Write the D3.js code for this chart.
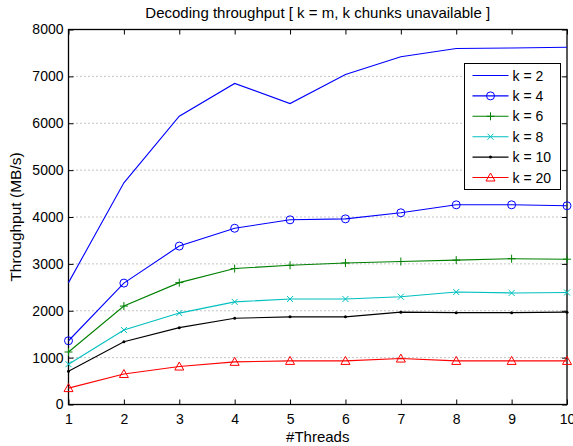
<!DOCTYPE html>
<html>
<head>
<meta charset="utf-8">
<script src="https://cdn.jsdelivr.net/npm/d3@7/dist/d3.min.js"></script>
<style>
  html, body { margin: 0; padding: 0; background: #fff; }
  svg { display: block; font-family: "Liberation Sans", Arial, Helvetica, sans-serif; }
</style>
</head>
<body>
<svg id="chart" width="573" height="446"></svg>
<script>
// Thread counts on the x axis
const threads = [1, 2, 3, 4, 5, 6, 7, 8, 9, 10];

// Decoding throughput (MB/s) per k
const k2  = [2600, 4730, 6150, 6850, 6420, 7040, 7420, 7595, 7605, 7620];
const k4  = [1360, 2590, 3380, 3760, 3940, 3960, 4090, 4260, 4260, 4240];
const k6  = [1120, 2100, 2600, 2900, 2970, 3020, 3050, 3080, 3110, 3100];
const k8  = [860, 1590, 1950, 2190, 2250, 2250, 2300, 2400, 2380, 2390];
const k10 = [710, 1340, 1640, 1840, 1870, 1870, 1970, 1960, 1960, 1970];
const k20 = [350, 650, 810, 910, 930, 930, 980, 930, 930, 930];

const seriesNames = ["k = 2", "k = 4", "k = 6", "k = 8", "k = 10", "k = 20"];
const xTicks = [1, 2, 3, 4, 5, 6, 7, 8, 9, 10];
const yTicks = [0, 1000, 2000, 3000, 4000, 5000, 6000, 7000, 8000];

const series = [
  { name: seriesNames[0], values: k2,  color: "#0000ff", marker: "none" },
  { name: seriesNames[1], values: k4,  color: "#0000ff", marker: "circle" },
  { name: seriesNames[2], values: k6,  color: "#008000", marker: "plus" },
  { name: seriesNames[3], values: k8,  color: "#00bfbf", marker: "cross" },
  { name: seriesNames[4], values: k10, color: "#000000", marker: "dot" },
  { name: seriesNames[5], values: k20, color: "#ff0000", marker: "triangle" }
];

const margin = { left: 68.5, right: 6, top: 29.5, bottom: 41.5 };
const W = 573, H = 446;
const svg = d3.select("#chart");

const x = d3.scaleLinear().domain([1, 10]).range([margin.left, W - margin.right]);
const y = d3.scaleLinear().domain([0, 8000]).range([H - margin.bottom, margin.top]);

const x0 = x.range()[0], x1 = x.range()[1];
const y0 = y.range()[0], y1 = y.range()[1];

// Dotted horizontal grid
svg.append("g")
  .selectAll("line")
  .data(yTicks.filter(d => d > 0 && d < 8000))
  .join("line")
  .attr("x1", x0).attr("x2", x1)
  .attr("y1", d => y(d)).attr("y2", d => y(d))
  .attr("stroke", "#888")
  .attr("stroke-width", 1)
  .attr("stroke-dasharray", "1,3");

// Axes: ticks pointing inward, labels outside
const fontSize = 14;
const tickLen = 5;

const xAxis = d3.axisBottom(x).tickValues(xTicks).tickSize(-tickLen).tickPadding(10).tickFormat(d3.format("d"));
const xAxisTop = d3.axisTop(x).tickValues(xTicks).tickSize(-tickLen).tickFormat("");
const yAxis = d3.axisLeft(y).tickValues(yTicks).tickSize(-tickLen).tickPadding(5).tickFormat(d3.format("d"));
const yAxisRight = d3.axisRight(y).tickValues(yTicks).tickSize(-tickLen).tickFormat("");

function styleAxis(g) {
  g.select(".domain").remove();
  g.selectAll(".tick line").attr("stroke", "#000");
  g.selectAll(".tick text").attr("fill", "#000").attr("font-size", fontSize);
}

svg.append("g").attr("transform", `translate(0,${y0})`).call(xAxis).call(styleAxis);
svg.append("g").attr("transform", `translate(0,${y1})`).call(xAxisTop).call(styleAxis);
svg.append("g").attr("transform", `translate(${x0},0)`).call(yAxis).call(styleAxis);
svg.append("g").attr("transform", `translate(${x1},0)`).call(yAxisRight).call(styleAxis);

// Plot box
svg.append("rect")
  .attr("x", x0).attr("y", y1)
  .attr("width", x1 - x0).attr("height", y0 - y1)
  .attr("fill", "none").attr("stroke", "#000").attr("stroke-width", 1.3);

// Marker drawing
function drawMarker(g, type, color) {
  switch (type) {
    case "circle":
      g.append("circle").attr("r", 4).attr("fill", "none").attr("stroke", color).attr("stroke-width", 1);
      break;
    case "plus":
      g.append("path").attr("d", "M-4,0H4M0,-4V4").attr("stroke", color).attr("stroke-width", 1);
      break;
    case "cross":
      g.append("path").attr("d", "M-3,-3L3,3M-3,3L3,-3").attr("stroke", color).attr("stroke-width", 1);
      break;
    case "dot":
      g.append("circle").attr("r", 1.5).attr("fill", color);
      break;
    case "triangle":
      g.append("path").attr("d", "M0,-4.5L4.5,3.5L-4.5,3.5Z").attr("fill", "none").attr("stroke", color).attr("stroke-width", 1);
      break;
  }
}

const line = d3.line().x((d, i) => x(threads[i])).y(d => y(d));

const plot = svg.append("g");
series.forEach(s => {
  plot.append("path")
    .attr("d", line(s.values))
    .attr("fill", "none")
    .attr("stroke", s.color)
    .attr("stroke-width", 1.1);
  if (s.marker !== "none") {
    s.values.forEach((v, i) => {
      const g = plot.append("g").attr("transform", `translate(${x(threads[i])},${y(v)})`);
      drawMarker(g, s.marker, s.color);
    });
  }
});

// Legend
const legend = svg.append("g").attr("transform", "translate(464.5,63.5)");
legend.append("rect")
  .attr("width", 96).attr("height", 126)
  .attr("fill", "#fff").attr("stroke", "#000").attr("stroke-width", 1);
series.forEach((s, i) => {
  const ly = 12 + i * 20.4;
  const row = legend.append("g").attr("transform", `translate(0,${ly})`);
  row.append("line").attr("x1", 8).attr("x2", 44).attr("y1", 0).attr("y2", 0)
    .attr("stroke", s.color).attr("stroke-width", 1.1);
  if (s.marker !== "none") {
    drawMarker(row.append("g").attr("transform", "translate(26,0)"), s.marker, s.color);
  }
  row.append("text").attr("x", 48).attr("y", 5).attr("font-size", fontSize).attr("fill", "#000").text(s.name);
});

// Title and axis labels
svg.append("text")
  .attr("x", (x0 + x1) / 2).attr("y", 18)
  .attr("text-anchor", "middle").attr("font-size", 15).attr("fill", "#000")
  .text("Decoding throughput [ k = m, k chunks unavailable ]");

svg.append("text")
  .attr("x", (x0 + x1) / 2).attr("y", 442)
  .attr("text-anchor", "middle").attr("font-size", 15).attr("fill", "#000")
  .text("#Threads");

svg.append("text")
  .attr("transform", `translate(21,${(y0 + y1) / 2}) rotate(-90)`)
  .attr("text-anchor", "middle").attr("font-size", 15.5).attr("fill", "#000")
  .text("Throughput (MB/s)");
</script>
</body>
</html>
